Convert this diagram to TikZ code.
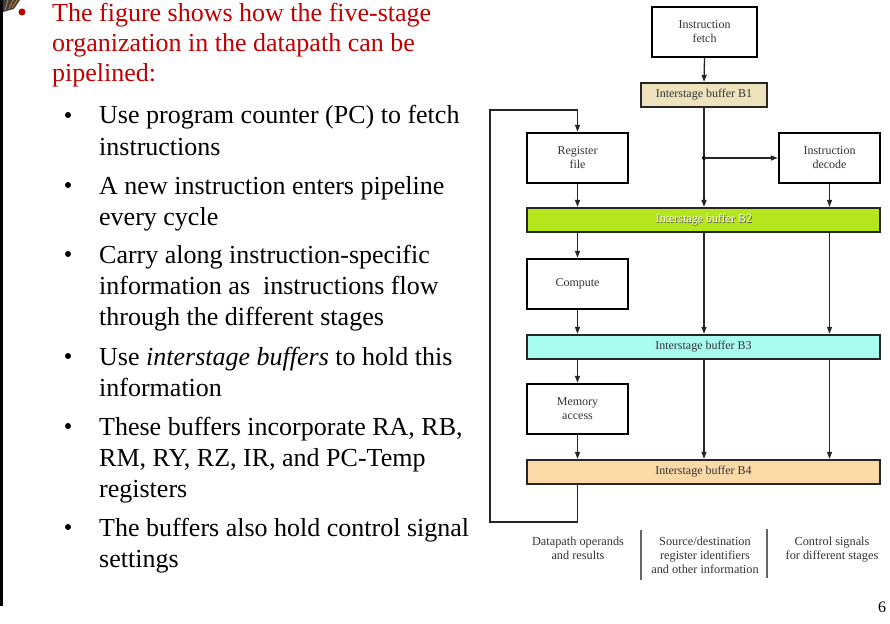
\documentclass[tikz,border=0pt]{standalone}
\usepackage{fontspec}
\setmainfont{Liberation Serif}
\usetikzlibrary{arrows.meta}
\definecolor{titlered}{HTML}{C00000}
\definecolor{bufA}{HTML}{EEE2BC}
\definecolor{bufB}{HTML}{B5E61D}
\definecolor{bufC}{HTML}{A9FCF0}
\definecolor{bufD}{HTML}{FCDAA8}
\definecolor{dtext}{HTML}{333333}
\tikzset{
  bodytext/.style={anchor=base west, inner sep=0pt, font=\fontsize{26}{31}\selectfont},
  bul/.style={circle, fill=black, inner sep=0pt, minimum size=6pt},
  stagebox/.style={draw=black, line width=2.5pt, fill=white, minimum width=101pt, minimum height=50pt, align=center, text=dtext, font=\fontsize{12}{14}\selectfont, inner sep=0pt},
  bufbox/.style={draw=black!85, line width=2.3pt, minimum height=24pt, align=center, text=dtext, font=\fontsize{12}{14}\selectfont, inner sep=0pt},
  conn/.style={draw=black!85, line width=1.3pt},
  arr/.style={conn, -{Triangle[length=7pt,width=5pt]}},
  lbl/.style={align=center, text=dtext, font=\fontsize{12.3}{14}\selectfont, inner sep=0pt},
}
\begin{document}
\begin{tikzpicture}[x=1pt,y=-1pt]
\useasboundingbox (0,0) rectangle (890,623);
\fill[white] (0,0) rectangle (890,623);
% left edge bar and corner decoration
\fill[black] (0,0) rectangle (3,606);
\fill[black!75] (3,0) -- (20,0) -- (14,9) -- (3,12) -- cycle;
\draw[brown!70!orange, line width=0.8pt] (5,10) -- (8,0) (9,9) -- (13,0) (12,8) -- (17,0);
% title
\node[circle, fill=titlered, inner sep=0pt, minimum size=7pt] (tb) at (22,12) {};
\node[bodytext, text=titlered] (t1) at (52,22) {The figure shows how the five-stage};
\node[bodytext, text=titlered] (t2) at (52,52) {organization in the datapath can be};
\node[bodytext, text=titlered] (t3) at (52,82) {pipelined:};
% bullets
\node[bul] (b1) at (68,115) {};
\node[bodytext] (l1a) at (99,124) {Use program counter (PC) to fetch};
\node[bodytext] (l1b) at (99,155) {instructions};
\node[bul] (b2) at (68,185) {};
\node[bodytext] (l2a) at (99,194) {A new instruction enters pipeline};
\node[bodytext] (l2b) at (99,225) {every cycle};
\node[bul] (b3) at (68,254) {};
\node[bodytext] (l3a) at (99,263) {Carry along instruction-specific};
\node[bodytext] (l3b) at (99,294) {information as\ \ instructions flow};
\node[bodytext] (l3c) at (99,325) {through the different stages};
\node[bul] (b4) at (68,356) {};
\node[bodytext] (l4a) at (99,365) {Use \textit{interstage buffers} to hold this};
\node[bodytext] (l4b) at (99,396) {information};
\node[bul] (b5) at (68,426) {};
\node[bodytext] (l5a) at (99,435) {These buffers incorporate RA, RB,};
\node[bodytext] (l5b) at (99,466) {RM, RY, RZ, IR, and PC-Temp};
\node[bodytext] (l5c) at (99,497) {registers};
\node[bul] (b6) at (68,527) {};
\node[bodytext] (l6a) at (99,536) {The buffers also hold control signal};
\node[bodytext] (l6b) at (99,567) {settings};
% diagram
\node[stagebox, minimum width=105pt] (fetch) at (704.5,32) {Instruction\\fetch};
\node[bufbox, fill=bufA, minimum width=126pt] (B1) at (704,95) {Interstage buffer B1};
\node[stagebox] (reg) at (577.5,158) {Register\\file};
\node[stagebox] (dec) at (829.5,158) {Instruction\\decode};
\node[bufbox, fill=bufB, minimum width=353pt] (B2) at (703.5,220) {};
\node[lbl, font=\fontsize{12}{14}\selectfont, text=black!70] at (704.6,220.7) {Interstage buffer B2};
\node[lbl, font=\fontsize{12}{14}\selectfont, text=white] (B2t) at (704,220) {Interstage buffer B2};
\node[stagebox] (comp) at (577.5,284) {Compute};
\node[bufbox, fill=bufC, minimum width=353pt] (B3) at (703.5,347) {Interstage buffer B3};
\node[stagebox] (mem) at (577.5,409) {Memory\\access};
\node[bufbox, fill=bufD, minimum width=353pt] (B4) at (703.5,472) {Interstage buffer B4};
% connectors
\coordinate (j) at (704,158);
\draw[arr] (fetch.south) -- (B1.north);
\draw[arr] (B1.south) -- (B1.south |- B2.north);
\fill[black] (j) circle (2pt);
\draw[arr] (j) -- (dec.west);
\draw[arr] (reg.south) -- (reg.south |- B2.north);
\draw[arr] (dec.south) -- (dec.south |- B2.north);
\draw[arr] (B2.south -| comp.north) -- (comp.north);
\draw[arr] (B2.south -| j) -- (B3.north -| j);
\draw[arr] (B2.south -| dec.south) -- (B3.north -| dec.south);
\draw[arr] (comp.south) -- (comp.south |- B3.north);
\draw[arr] (B3.south -| mem.north) -- (mem.north);
\draw[arr] (B3.south -| j) -- (B4.north -| j);
\draw[arr] (B3.south -| dec.south) -- (B4.north -| dec.south);
\draw[arr] (mem.south) -- (mem.south |- B4.north);
\coordinate (fb1) at (577.5,522);
\coordinate (fb2) at (490,522);
\coordinate (fb3) at (490,110);
\coordinate (fb4) at (577.5,110);
\draw[conn] (B4.south -| reg.north) -- (fb1) -- (fb2) -- (fb3) -- (fb4);
\draw[arr] (fb4) -- (reg.north);
% bottom labels
\node[lbl] (L1) at (578,548) {Datapath operands\\and results};
\node[lbl] (L2) at (705,555) {Source/destination\\register identifiers\\and other information};
\node[lbl] (L3) at (832,550) {Control signals\\for different stages};
\coordinate (s1a) at (641,530); \coordinate (s1b) at (641,580);
\coordinate (s2a) at (767,529); \coordinate (s2b) at (767,578);
\draw[black!60, line width=1.6pt] (s1a) -- (s1b);
\draw[black!60, line width=1.6pt] (s2a) -- (s2b);
% page number
\node[anchor=base, inner sep=0pt, font=\fontsize{16}{18}\selectfont] (pg) at (882,612) {6};
\end{tikzpicture}
\end{document}
